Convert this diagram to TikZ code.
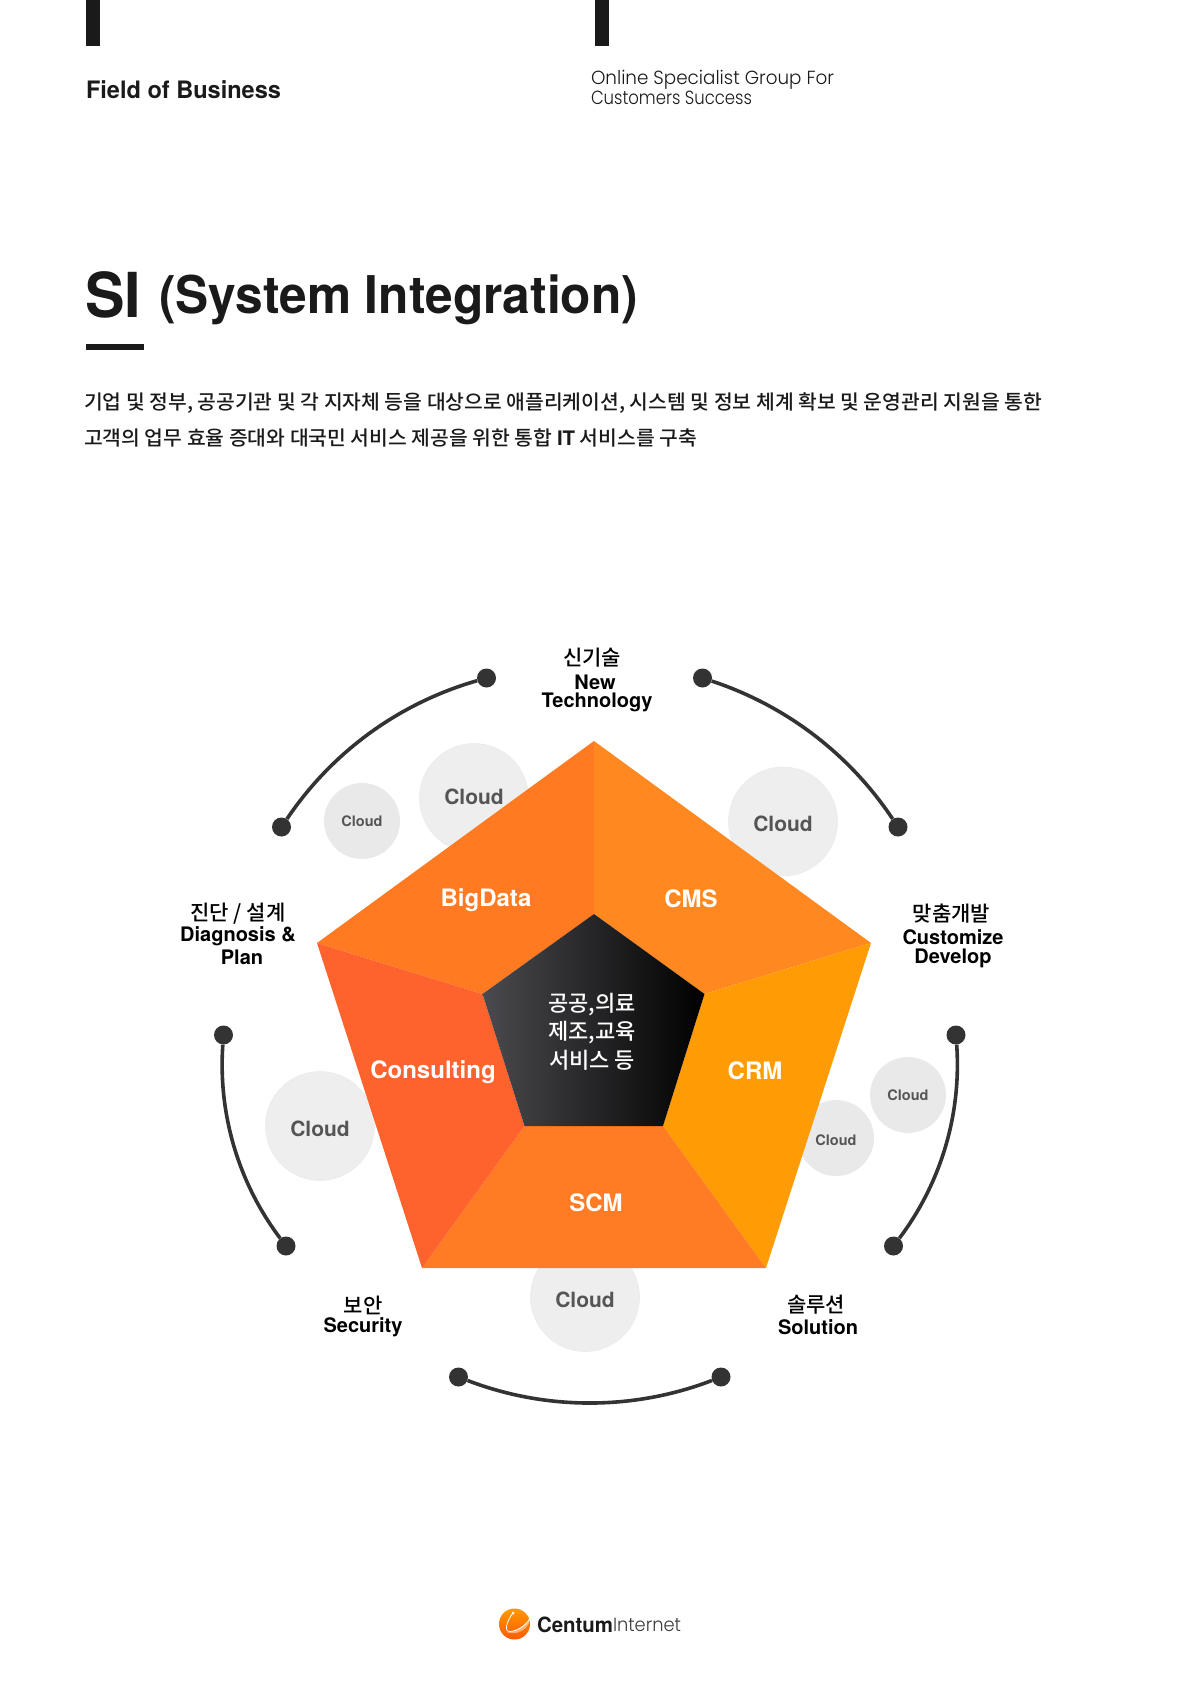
\documentclass[tikz,border=0pt]{standalone}
\usepackage{graphicx}
\usepackage{fontspec}
\setmainfont{TeX Gyre Heros}
\newfontfamily\kr{Noto Sans CJK KR}[UprightFont=* Medium]
\newfontfamily\fut{Poppins}[UprightFont=* Light]
\newcommand{\fitw}[2]{\resizebox{#1pt}{\height}{#2}}
\newcommand{\fs}[1]{\fontsize{#1pt}{#1pt}\selectfont}
\definecolor{ink}{HTML}{1A1A1A}
\definecolor{dotc}{HTML}{333333}
\definecolor{cloudf}{HTML}{EEEEEE}
\definecolor{cloudd}{HTML}{E9E9E9}
\definecolor{cloudt}{HTML}{555555}
\definecolor{gL}{HTML}{4B4B4F}
\tikzset{
  txt/.style={inner sep=0pt,outer sep=0pt,align=center},
  seglabel/.style={txt,text=white,font=\bfseries\fs{24}},
  krhead/.style={txt,text=black,font=\kr\fs{21}},
  enhead/.style={txt,text=black,font=\bfseries\fs{20}},
  bigcloud/.style={circle,minimum size=109pt,inner sep=0pt,fill=cloudf,draw=black!8,line width=.6pt},
  smallcloud/.style={circle,minimum size=76pt,inner sep=0pt,fill=cloudd,text=cloudt,font=\bfseries\fs{14.5}},
  bigt/.style={txt,text=cloudt,font=\bfseries\fs{21}},
  smallt/.style={txt,text=cloudt,font=\bfseries\fs{14.5}},
  pt/.style={circle,minimum size=19pt,inner sep=0pt,fill=dotc},
  arcline/.style={draw=dotc,line width=3.6pt,looseness=.88},
  bar/.style={fill=ink,draw=none}
}
\begin{document}
\begin{tikzpicture}[x=1pt,y=-1pt]
\useasboundingbox (0,0) rectangle (1190,1684);
% header
\fill[bar] (86,0) rectangle (100,46);
\fill[bar] (595,0) rectangle (609,46);
\node[txt,anchor=west,text=ink,font=\bfseries\fs{24}] (field) at (86,90) {\fitw{195}{Field of Business}};
\node[txt,anchor=west,text=ink,font=\fut\fs{19}] (online1) at (591,80) {\fitw{243}{Online Specialist Group For}};
\node[txt,anchor=west,text=ink,font=\fut\fs{19}] (online2) at (591,98) {\fitw{161}{Customers Success}};
% title
\node[txt,anchor=base west,text=ink,font=\bfseries\fs{62}] (si) at (85,317) {\fitw{56}{SI}};
\node[txt,anchor=base west,text=ink,font=\bfseries\fs{52}] (title) at (159,313) {\fitw{479}{(System Integration)}};
\fill[bar] (86,344) rectangle (144,350);
% body
\node[txt,anchor=west,text=ink,font=\kr\fs{20}] (body1) at (84,403) {\fitw{958}{기업 및 정부, 공공기관 및 각 지자체 등을 대상으로 애플리케이션, 시스템 및 정보 체계 확보 및 운영관리 지원을 통한}};
\node[txt,anchor=west,text=ink,font=\kr\fs{20}] (body2) at (84,438) {\fitw{613}{고객의 업무 효율 증대와 대국민 서비스 제공을 위한 통합 {\rmfamily\bfseries IT} 서비스를 구축}};
% clouds behind pentagon
\node[bigcloud] (c1) at (474,798) {};
\node[bigcloud] (c2) at (783,821.5) {};
\node[bigcloud] (c3) at (320,1126) {};
\node[bigcloud] (c4) at (585,1297) {};
\node[smallcloud] (c5) at (362,821) {Cloud};
\node[smallcloud] (c6) at (908,1095) {Cloud};
\node[smallcloud] (c7) at (836,1138) {};
% pentagon
\coordinate (T) at (594,741);
\coordinate (R) at (871,943);
\coordinate (BR) at (766,1268);
\coordinate (BL) at (422,1268);
\coordinate (L) at (317,943);
\coordinate (iT) at (594,914);
\coordinate (iR) at (704.5,994);
\coordinate (iBR) at (663,1126);
\coordinate (iBL) at (524.5,1126);
\coordinate (iL) at (482.5,994);
\fill[color={rgb,255:red,255;green,122;blue,33}] (T)--(L)--(iL)--(iT)--cycle;
\fill[color={rgb,255:red,255;green,137;blue,32}] (T)--(R)--(iR)--(iT)--cycle;
\fill[color={rgb,255:red,255;green,156;blue,5}] (R)--(BR)--(iBR)--(iR)--cycle;
\fill[color={rgb,255:red,255;green,123;blue,36}] (BR)--(BL)--(iBL)--(iBR)--cycle;
\fill[color={rgb,255:red,255;green,99;blue,45}] (BL)--(L)--(iL)--(iBL)--cycle;
\shade[left color=gL,right color=black] (iT)--(iR)--(iBR)--(iBL)--(iL)--cycle;
% cloud labels over the parts hidden by the pentagon
\node[bigt] (t1) at (474,797) {Cloud};
\node[bigt] (t2) at (783,824) {Cloud};
\node[bigt] (t3) at (320,1129) {Cloud};
\node[bigt] (t4) at (585,1300) {Cloud};
\node[smallt] (t7) at (836,1140) {Cloud};
% segment labels
\node[seglabel] (big) at (486,900) {BigData};
\node[seglabel] (cms) at (691,899) {CMS};
\node[seglabel] (crm) at (755,1071) {CRM};
\node[seglabel] (scm) at (596,1203) {SCM};
\node[seglabel] (con) at (433,1072) {Consulting};
\node[txt,text=white,font=\kr\fs{22}] (ct1) at (592,1005) {공공,의료};
\node[txt,text=white,font=\kr\fs{22}] (ct2) at (592,1033) {제조,교육};
\node[txt,text=white,font=\kr\fs{22}] (ct3) at (592,1060) {서비스 등};
% arcs
\node[pt] (a1) at (281.5,827) {};
\node[pt] (a2) at (486.5,678) {};
\node[pt] (b1) at (702.5,678) {};
\node[pt] (b2) at (898,827) {};
\node[pt] (d1) at (956,1035) {};
\node[pt] (d2) at (893.5,1246) {};
\node[pt] (e1) at (721,1377) {};
\node[pt] (e2) at (458.5,1377) {};
\node[pt] (f1) at (286,1246) {};
\node[pt] (f2) at (223.5,1035) {};
\draw[arcline] (a1) to[bend left=20] (a2);
\draw[arcline] (b1) to[bend left=19] (b2);
\draw[arcline] (d1) to[bend left=20.5] (d2);
\draw[arcline] (e1) to[bend left=21] (e2);
\draw[arcline] (f1) to[bend left=20.5] (f2);
% outer labels
\node[krhead] (l1) at (592,658) {신기술};
\node[enhead] (l1a) at (595,682) {New};
\node[enhead] (l1b) at (597,702) {Technology};
\node[krhead] (l2) at (238,914) {진단 / 설계};
\node[enhead] (l2a) at (238,936.5) {Diagnosis \&};
\node[enhead] (l2b) at (242,957.5) {Plan};
\node[krhead] (l3) at (951.5,914) {맞춤개발};
\node[enhead] (l3a) at (953,937.5) {Customize};
\node[enhead] (l3b) at (953,958) {Develop};
\node[krhead] (l4) at (363,1305) {보안};
\node[enhead] (l4a) at (363,1327) {Security};
\node[krhead] (l5) at (816,1305) {솔루션};
\node[enhead] (l5a) at (818,1327) {Solution};
% logo
\shade[top color=orange!80!yellow,bottom color=orange!70!red] (514.5,1624) circle (15.5);
\fill[white,opacity=.45] (506,1632) .. controls (514,1632) and (524,1627) .. (530,1620) .. controls (528,1630) and (516,1636) .. (506,1632) -- cycle;
\draw[white,line width=.8pt,line cap=round] (513,1613) .. controls (506,1622) and (504,1632) .. (510,1631.5) .. controls (518,1631) and (526,1625) .. (529.5,1619);
\fill[white] (513,1613) circle (1.5);
\node[txt,anchor=west,text=ink,font=\bfseries\fs{21}] (lg1) at (537,1625) {\fitw{76}{Centum}};
\node[txt,anchor=west,text=ink!85,font=\fut\fs{19}] (lg2) at (613,1625) {\fitw{68}{Internet}};
\end{tikzpicture}
\end{document}
